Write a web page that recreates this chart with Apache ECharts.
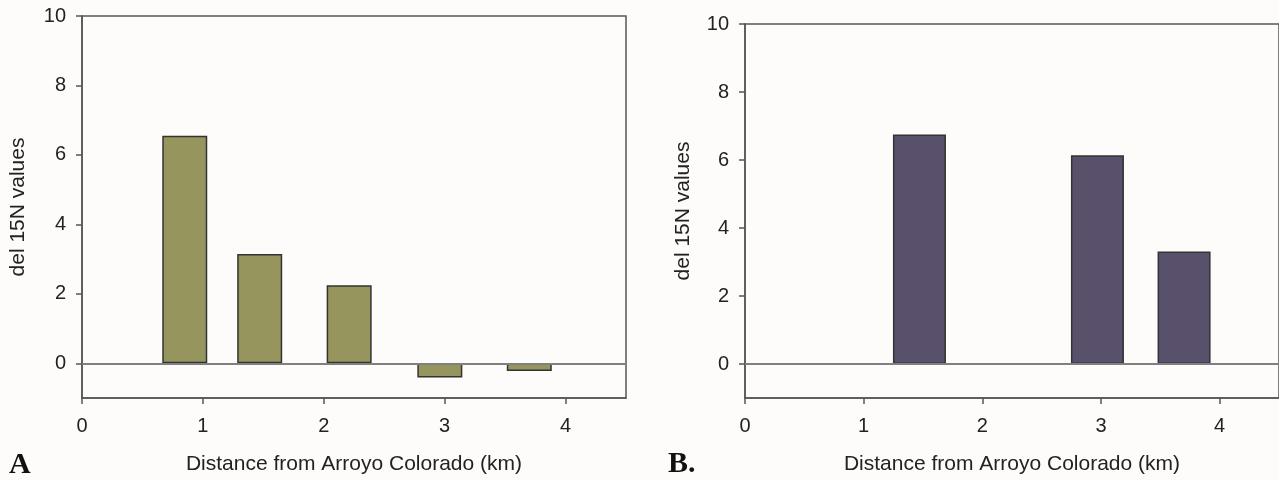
<!DOCTYPE html>
<html>
<head>
<meta charset="utf-8">
<script src="https://cdn.jsdelivr.net/npm/echarts@6/dist/echarts.min.js"></script>
<style>
html,body{margin:0;padding:0;background:#fdfcfa;}
#chart{width:1279px;height:480px;}
</style>
</head>
<body>
<div id="chart"></div>
<script>
// panel A: distance (km) and del 15N
var distA = [0.85, 1.47, 2.21, 2.96, 3.70];
var valsA = [6.55, 3.15, 2.25, -0.41, -0.22];
// panel B
var distB = [1.47, 2.97, 3.70];
var valsB = [6.75, 6.14, 3.31];
// tick labels
var xTicks = [0, 1, 2, 3, 4];
var yTicks = [0, 2, 4, 6, 8, 10];

var fontFam = '"Liberation Sans", Arial, sans-serif';
var axisColor = '#555';

function pairs(xs, ys){
    var out = [];
    for (var i = 0; i < xs.length; i++) out.push([xs[i], ys[i]]);
    return out;
}

function xAx(idx){
    return {
        type:'value', gridIndex:idx, min:0, max:4.5,
        name:'Distance from Arroyo Colorado (km)', nameLocation:'middle', nameGap:56,
        nameTextStyle:{fontFamily:fontFam, fontSize:21, color:'#222'},
        axisLine:{onZero:false, lineStyle:{color:axisColor, width:1.5}},
        axisTick:{customValues:xTicks, inside:false, length:6, lineStyle:{color:axisColor, width:1.5}},
        axisLabel:{customValues:xTicks, fontFamily:fontFam, fontSize:20, color:'#222', margin:18},
        splitLine:{show:false}
    };
}
function yAx(idx, gap){
    return {
        type:'value', gridIndex:idx, min:-1, max:10,
        name:'del 15N values', nameLocation:'middle', nameGap:gap,
        nameTextStyle:{fontFamily:fontFam, fontSize:21, color:'#222'},
        axisLine:{show:true, lineStyle:{color:axisColor, width:1.5}},
        axisTick:{show:true, customValues:yTicks, length:6, lineStyle:{color:axisColor, width:1.5}},
        axisLabel:{customValues:yTicks, fontFamily:fontFam, fontSize:20, color:'#222', margin:16},
        splitLine:{show:false}
    };
}
function zeroLine(){
    return {
        silent:true, symbol:['none','none'], label:{show:false},
        lineStyle:{color:'#808080', width:2, type:'solid'},
        data:[{yAxis:0}]
    };
}

var chart = echarts.init(document.getElementById('chart'));
var option = {
    backgroundColor:'#fdfcfa',
    animation:false,
    grid:[
        {left:82, top:16, width:544, height:383, show:true, borderColor:axisColor, borderWidth:1.5, backgroundColor:'transparent'},
        {left:745, top:24, width:535, height:376, show:true, borderColor:axisColor, borderWidth:1.5, backgroundColor:'transparent'}
    ],
    xAxis:[xAx(0), xAx(1)],
    yAxis:[yAx(0, 53), yAx(1, 51)],
    series:[
        {
            type:'bar', xAxisIndex:0, yAxisIndex:0, barWidth:45,
            data:pairs(distA, valsA),
            itemStyle:{color:'#97955e', borderColor:'#333', borderWidth:1.5},
            markLine:zeroLine()
        },
        {
            type:'bar', xAxisIndex:1, yAxisIndex:1, barWidth:53,
            data:pairs(distB, valsB),
            itemStyle:{color:'#59516c', borderColor:'#333', borderWidth:1.5},
            markLine:zeroLine()
        }
    ],
    graphic:[
        {type:'text', left:9, top:450, style:{text:'A', font:'bold 30px "Liberation Serif", "Times New Roman", serif', fill:'#111'}},
        {type:'text', left:668, top:449, style:{text:'B.', font:'bold 30px "Liberation Serif", "Times New Roman", serif', fill:'#111'}}
    ]
};
chart.setOption(option);
</script>
</body>
</html>
